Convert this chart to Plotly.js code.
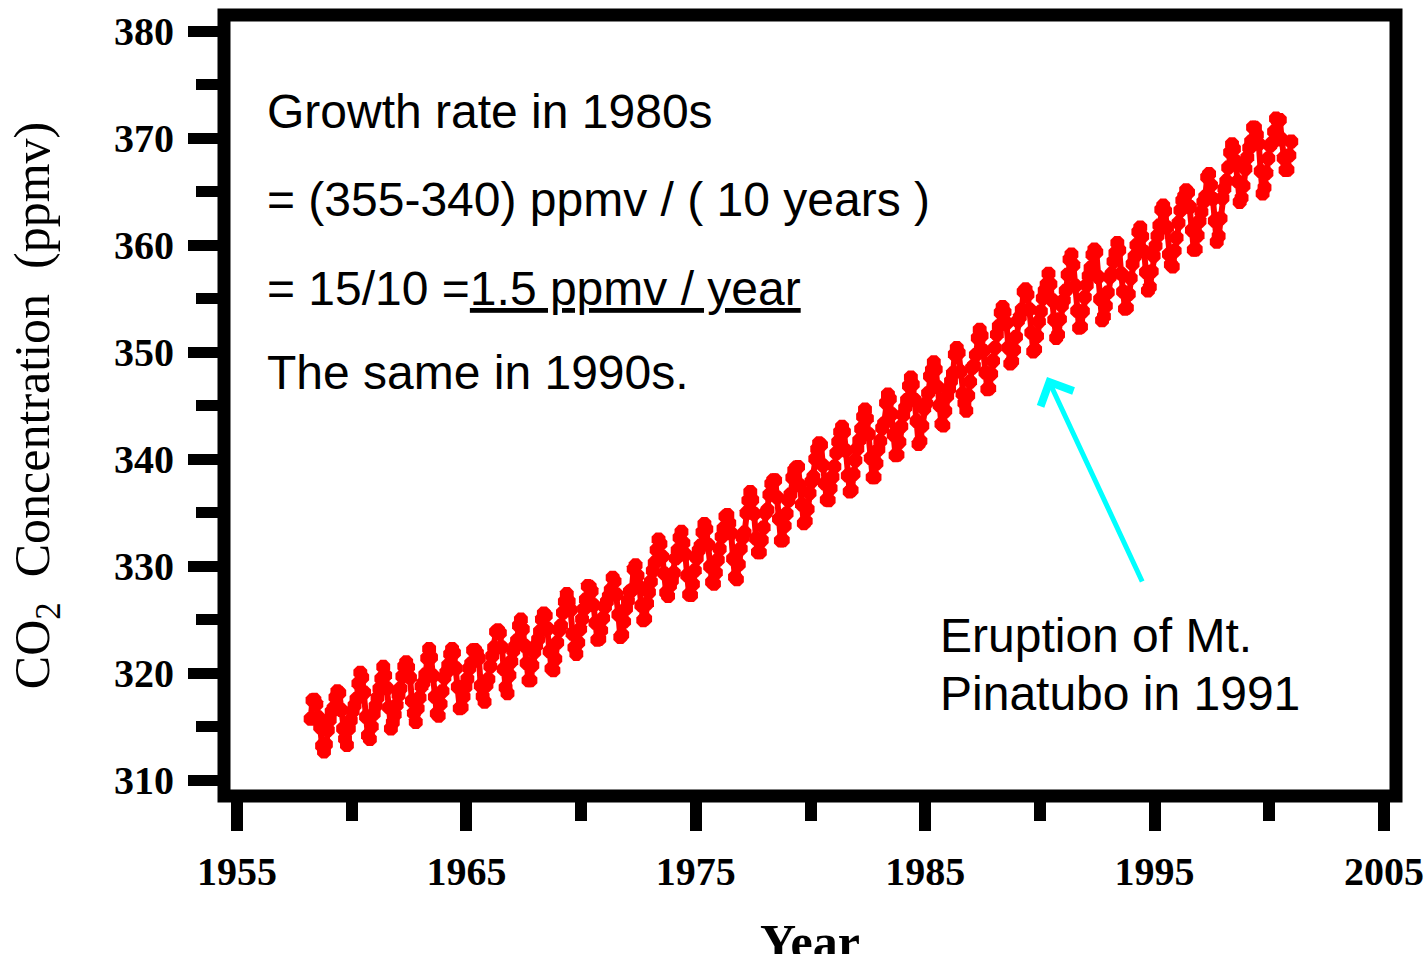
<!DOCTYPE html>
<html>
<head>
<meta charset="utf-8">
<script src="https://cdn.plot.ly/plotly-3.0.1.min.js"></script>
<style>
html,body{margin:0;padding:0;background:#fff;}
#chart{width:1428px;height:954px;}
</style>
</head>
<body>
<div id="chart"></div>
<script>
// Monthly CO2 concentration (ppmv), Mauna Loa (Mar 1958 - Dec 2000)
const firstYear = 1958;
const firstMonth = 3;
const co2_1950s = [
  315.71, 317.45, 317.50, 317.10, 315.86, 314.93, 313.20, 312.66, 313.33, 314.67,
  315.62, 316.38, 316.71, 317.72, 318.29, 318.15, 316.54, 314.80, 313.84, 313.26, 314.80, 315.58
];
const co2_1960s = [
  316.43, 316.97, 317.58, 319.02, 320.03, 319.59, 318.18, 315.91, 314.16, 313.83, 315.00, 316.19,
  316.93, 317.70, 318.54, 319.48, 320.58, 319.77, 318.57, 316.79, 314.80, 315.38, 316.10, 317.01,
  317.94, 318.56, 319.68, 320.63, 321.01, 320.55, 319.58, 317.40, 316.26, 315.42, 316.69, 317.69,
  318.74, 319.08, 319.86, 321.39, 322.25, 321.47, 319.74, 317.77, 316.21, 315.99, 317.12, 318.31,
  319.57, 320.07, 320.73, 321.77, 322.25, 321.89, 320.44, 318.70, 316.70, 316.79, 317.79, 318.71,
  319.44, 320.44, 320.89, 322.13, 322.16, 321.87, 321.39, 318.81, 317.81, 317.30, 318.87, 319.42,
  320.62, 321.59, 322.39, 323.87, 324.01, 323.75, 322.39, 320.37, 318.64, 318.10, 319.79, 321.08,
  322.07, 322.50, 323.04, 324.42, 325.00, 324.09, 322.55, 320.92, 319.31, 319.31, 320.72, 321.96,
  322.57, 323.15, 323.89, 325.02, 325.57, 325.36, 324.14, 322.03, 320.41, 320.25, 321.31, 322.84,
  324.00, 324.42, 325.64, 326.66, 327.38, 326.70, 325.89, 323.67, 322.38, 321.78, 322.85, 324.11
];
const co2_1970s = [
  325.03, 325.99, 326.87, 328.13, 328.07, 327.66, 326.35, 324.69, 323.10, 323.16, 323.98, 325.13,
  326.17, 326.68, 327.18, 327.78, 328.92, 328.57, 327.34, 325.46, 323.36, 323.57, 324.80, 326.01,
  326.77, 327.63, 327.75, 329.72, 330.07, 329.09, 328.05, 326.32, 324.93, 325.06, 326.50, 327.55,
  328.54, 329.56, 330.30, 331.50, 332.48, 332.07, 330.87, 329.31, 327.51, 327.18, 328.16, 328.64,
  329.35, 330.71, 331.48, 332.65, 333.20, 332.16, 331.07, 329.12, 327.32, 327.28, 328.30, 329.58,
  330.73, 331.46, 331.90, 333.17, 333.94, 333.45, 331.97, 329.95, 328.50, 328.34, 329.37, 330.58,
  331.59, 332.75, 333.52, 334.64, 334.77, 334.00, 333.06, 330.68, 328.95, 328.75, 330.15, 331.62,
  332.66, 333.13, 334.95, 336.13, 336.93, 336.17, 334.88, 332.56, 331.29, 331.27, 332.41, 333.60,
  334.95, 335.25, 336.66, 337.69, 338.03, 338.01, 336.41, 334.41, 332.37, 332.41, 333.75, 334.90,
  336.14, 336.69, 338.27, 338.95, 339.21, 339.26, 337.54, 335.75, 333.98, 334.19, 335.31, 336.81
];
const co2_1980s = [
  337.90, 338.34, 340.01, 340.93, 341.48, 341.33, 339.40, 337.70, 336.19, 336.15, 337.27, 338.32,
  339.29, 340.55, 341.61, 342.53, 343.03, 342.54, 340.78, 338.44, 336.95, 337.08, 338.58, 339.88,
  340.96, 341.73, 342.81, 343.97, 344.63, 343.79, 342.32, 340.09, 338.28, 338.29, 339.60, 340.90,
  341.68, 342.90, 343.33, 345.25, 346.03, 345.63, 344.19, 342.27, 340.35, 340.38, 341.59, 343.05,
  344.10, 344.79, 345.52, 346.84, 347.63, 346.97, 345.53, 343.55, 341.40, 341.67, 343.10, 344.70,
  345.21, 346.16, 347.74, 348.33, 349.06, 348.38, 346.72, 345.02, 343.27, 343.13, 344.49, 345.88,
  346.56, 347.28, 348.01, 349.77, 350.38, 349.93, 348.16, 346.08, 345.22, 344.51, 345.93, 347.22,
  348.52, 348.73, 349.73, 351.31, 352.09, 351.53, 350.11, 348.08, 346.52, 346.59, 347.96, 349.16,
  350.39, 351.64, 352.41, 353.69, 354.21, 353.72, 352.69, 350.40, 348.92, 349.13, 350.20, 351.41,
  352.91, 353.27, 353.96, 355.64, 355.86, 355.37, 353.99, 351.81, 350.05, 350.25, 351.49, 352.85
];
const co2_1990s = [
  353.80, 355.04, 355.73, 356.32, 357.32, 356.34, 354.84, 353.01, 351.31, 351.62, 353.07, 354.33,
  354.84, 355.73, 357.23, 358.66, 359.13, 358.13, 356.19, 353.85, 352.25, 352.35, 353.81, 355.12,
  356.25, 357.11, 357.86, 359.09, 359.59, 359.33, 357.01, 354.94, 352.96, 353.32, 354.32, 355.57,
  357.00, 357.31, 358.47, 359.27, 360.19, 359.52, 357.33, 355.64, 354.03, 354.12, 355.41, 356.91,
  358.24, 358.92, 359.99, 361.23, 361.65, 360.81, 359.38, 357.46, 355.73, 356.07, 357.53, 358.98,
  359.92, 360.86, 361.83, 363.30, 363.69, 363.19, 361.64, 359.12, 358.17, 357.99, 359.45, 360.68,
  362.07, 363.24, 364.17, 364.57, 365.13, 364.92, 363.55, 361.38, 359.54, 359.58, 360.89, 362.24,
  363.09, 364.03, 364.51, 366.35, 366.64, 365.59, 364.31, 362.25, 360.29, 360.82, 362.49, 364.38,
  365.26, 365.98, 367.24, 368.66, 369.42, 368.99, 367.82, 365.95, 364.02, 364.40, 365.52, 367.13,
  368.18, 369.07, 369.68, 370.99, 370.96, 370.30, 369.45, 366.90, 364.81, 365.37, 366.72, 368.10
];
const co2_2000s = [
  369.29, 369.54, 370.60, 371.82, 371.58, 371.70, 369.86, 368.13, 367.00, 367.03, 368.37, 369.67
];

const xTickVals = [1955, 1965, 1975, 1985, 1995, 2005];
const xTickText = ['1955', '1965', '1975', '1985', '1995', '2005'];
const yTickVals = [310, 320, 330, 340, 350, 360, 370, 380];
const yTickText = ['310', '320', '330', '340', '350', '360', '370', '380'];

const xTitle = 'Year';
const yTitle = 'CO<sub>2</sub>&nbsp; Concentration&nbsp; (ppmv)';
const textLines = [
  'Growth rate in 1980s',
  '= (355-340) ppmv / ( 10 years )',
  '= 15/10 =<u>1.5 ppmv / year</u>',
  'The same in 1990s.'
];
const eruptionLines = ['Eruption of Mt.', 'Pinatubo in 1991'];

// build the monthly series (decimal year, mid-month)
const co2 = [].concat(co2_1950s, co2_1960s, co2_1970s, co2_1980s, co2_1990s, co2_2000s);
const years = co2.map((v, i) => {
  const m = firstMonth - 1 + i;
  return firstYear + Math.floor(m / 12) + ((m % 12) + 0.5) / 12;
});

const trace = {
  x: years,
  y: co2,
  type: 'scatter',
  mode: 'lines+markers',
  line: {color: '#ff0000', width: 6},
  marker: {color: '#ff0000', size: 15, symbol: 'octagon'},
  showlegend: false,
  hoverinfo: 'x+y'
};

const serif = 'Liberation Serif, Times New Roman, serif';
const sansFont = {family: 'Liberation Sans, Arial, sans-serif', size: 48, color: '#000'};
const textY = [372.52, 364.21, 355.89, 348.13];
const eruptY = [323.55, 318.13];

const annotations = [];
textLines.forEach((t, i) => annotations.push({
  x: 1956.2, y: textY[i], xref: 'x', yref: 'y', text: t, showarrow: false,
  xanchor: 'left', yanchor: 'middle', font: sansFont, align: 'left'
}));
eruptionLines.forEach((t, i) => annotations.push({
  x: 1985.55, y: eruptY[i], xref: 'x', yref: 'y', text: t, showarrow: false,
  xanchor: 'left', yanchor: 'middle', font: sansFont, align: 'left'
}));
annotations.push({
  x: 1990.31, y: 347.66, xref: 'x', yref: 'y',
  ax: 1994.49, ay: 328.41, axref: 'x', ayref: 'y',
  text: '', showarrow: true, arrowhead: 4, arrowsize: 1.4, arrowwidth: 5,
  arrowcolor: '#00ffff', standoff: 0
});
// x-axis title, placed so it runs off the bottom edge as in the reference
annotations.push({
  x: 0.5, y: -0.1485, xref: 'paper', yref: 'paper', text: xTitle, showarrow: false,
  xanchor: 'center', yanchor: 'top',
  font: {family: serif, size: 50, color: '#000', weight: 'bold'}
});

const layout = {
  width: 1428, height: 954,
  margin: {l: 224, r: 32, t: 15, b: 158},
  paper_bgcolor: '#fff', plot_bgcolor: '#fff',
  xaxis: {
    range: [1954.433, 2005.523],
    tickmode: 'array', tickvals: xTickVals, ticktext: xTickText,
    ticks: 'outside', ticklen: 34, tickwidth: 12, tickcolor: '#000',
    minor: {dtick: 5, tick0: 1955, ticks: 'outside', ticklen: 24, tickwidth: 12, tickcolor: '#000'},
    showgrid: false, zeroline: false, showline: false,
    ticklabelstandoff: 6,
    tickfont: {family: serif, size: 40, color: '#000', weight: 'bold'}
  },
  yaxis: {
    range: [308.505, 381.495],
    tickmode: 'array', tickvals: yTickVals, ticktext: yTickText,
    ticks: 'outside', ticklen: 35, tickwidth: 11, tickcolor: '#000',
    minor: {dtick: 5, tick0: 310, ticks: 'outside', ticklen: 27, tickwidth: 11, tickcolor: '#000'},
    showgrid: false, zeroline: false, showline: false,
    ticklabelstandoff: 6,
    tickfont: {family: serif, size: 40, color: '#000', weight: 'bold'},
    title: {text: yTitle, font: {family: serif, size: 50, color: '#000'}, standoff: 48}
  },
  shapes: [{
    type: 'rect', xref: 'paper', yref: 'paper', x0: 0, x1: 1, y0: 0, y1: 1,
    line: {color: '#000', width: 13}, layer: 'above'
  }],
  annotations: annotations
};

Plotly.newPlot('chart', [trace], layout, {displayModeBar: false, staticPlot: true});
</script>
</body>
</html>
